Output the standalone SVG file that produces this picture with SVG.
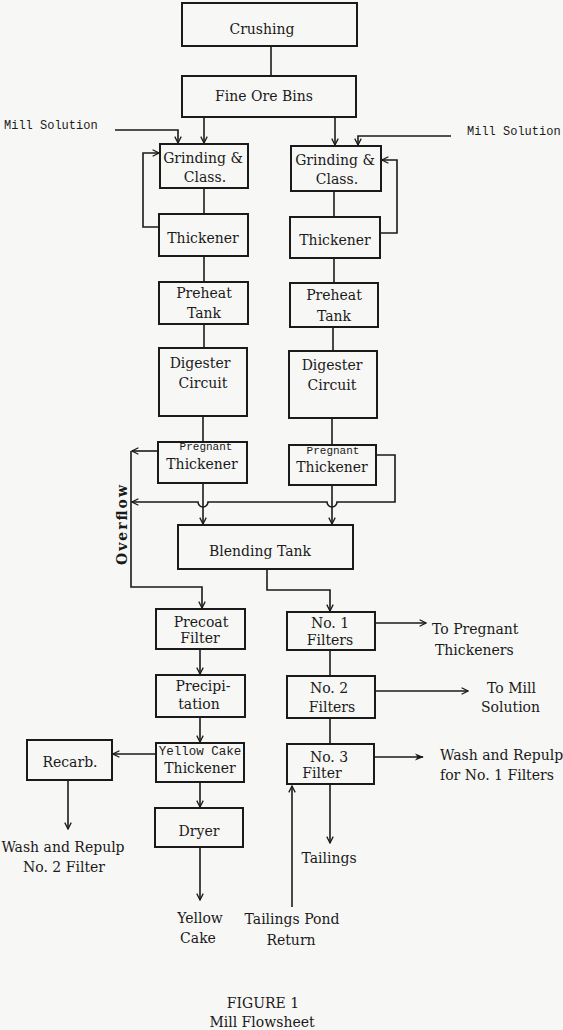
<svg xmlns="http://www.w3.org/2000/svg" width="563" height="1030" viewBox="0 0 563 1030">
<style>
.box{fill:none;stroke:#1a1a1a;stroke-width:2}
.ln{fill:none;stroke:#1a1a1a;stroke-width:1.6}
.t{font-family:"DejaVu Serif","Liberation Serif",serif;font-size:14px;fill:#1a1a1a;text-anchor:middle}
.ts{font-family:"DejaVu Serif","Liberation Serif",serif;font-size:14px;fill:#1a1a1a}
.m{font-family:"Liberation Mono","DejaVu Sans Mono",monospace;font-size:12px;fill:#1a1a1a}
.mc{font-family:"Liberation Mono","DejaVu Sans Mono",monospace;font-size:11px;fill:#1a1a1a;text-anchor:middle}
</style>
<defs>
<marker id="a" viewBox="0 0 10 10" refX="9" refY="5" markerWidth="8" markerHeight="8" markerUnits="userSpaceOnUse" orient="auto">
<path d="M1,1 L9,5 L1,9" fill="none" stroke="#1a1a1a" stroke-width="1.6"/>
</marker>
<marker id="f" viewBox="0 0 10 10" refX="9" refY="5" markerWidth="10" markerHeight="9" markerUnits="userSpaceOnUse" orient="auto">
<path d="M0,1 L10,5 L0,9 L3,5 Z" fill="#1a1a1a"/>
</marker>
</defs>
<rect width="563" height="1030" fill="#f7f7f5"/>

<g id="connectors">
<path class="ln" d="M271,46 V76"/>
<path class="ln" d="M204,117 V143" marker-end="url(#a)"/>
<path class="ln" d="M335,117 V145" marker-end="url(#a)"/>
<path class="ln" d="M115,130 H178 V143" marker-end="url(#a)"/>
<path class="ln" d="M451,136 H358 V145" marker-end="url(#a)"/>
<path class="ln" d="M204,188 V214"/>
<path class="ln" d="M159,227 H143 V153 H159" marker-end="url(#a)"/>
<path class="ln" d="M334,191 V217"/>
<path class="ln" d="M380,233 H397 V160 H382" marker-end="url(#a)"/>
<path class="ln" d="M204,256 V282"/>
<path class="ln" d="M334,258 V283"/>
<path class="ln" d="M204,324 V348"/>
<path class="ln" d="M333,327 V351"/>
<path class="ln" d="M203,416 V442"/>
<path class="ln" d="M332,418 V445"/>
<path class="ln" d="M158,451 H132" marker-end="url(#a)"/>
<path class="ln" d="M131,451 V587 H202 V608" marker-end="url(#a)"/>
<path class="ln" d="M376,455 H395 V502 H337 A5,5 0 0 1 327,502 H208 A5,5 0 0 1 198,502 H132" marker-end="url(#a)"/>
<path class="ln" d="M203,483 V524" marker-end="url(#a)"/>
<path class="ln" d="M332,485 V524" marker-end="url(#a)"/>
<path class="ln" d="M267,569 V590 H330 V611" marker-end="url(#a)"/>
<path class="ln" d="M200,649 V674" marker-end="url(#a)"/>
<path class="ln" d="M200,717 V742" marker-end="url(#a)"/>
<path class="ln" d="M156,754 H113" marker-end="url(#a)"/>
<path class="ln" d="M68,780 V829" marker-end="url(#a)"/>
<path class="ln" d="M200,782 V807" marker-end="url(#a)"/>
<path class="ln" d="M200,847 V900" marker-end="url(#a)"/>
<path class="ln" d="M375,623 H426" marker-end="url(#a)"/>
<path class="ln" d="M330,650 V676"/>
<path class="ln" d="M375,691 H468" marker-end="url(#a)"/>
<path class="ln" d="M330,718 V744"/>
<path class="ln" d="M374,757 H423" marker-end="url(#f)"/>
<path class="ln" d="M330,784 V843" marker-end="url(#a)"/>
<path class="ln" d="M292,907 V786" marker-end="url(#a)"/>
</g>

<g id="crushing"><rect class="box" x="182" y="3" width="175" height="43"/><text class="t" x="262" y="34">Crushing</text></g>
<g id="fine-ore-bins"><rect class="box" x="182" y="76" width="174" height="41"/><text class="t" x="264" y="101">Fine Ore Bins</text></g>

<g id="mill-solution-left"><text class="m" x="4" y="129">Mill Solution</text></g>
<g id="mill-solution-right"><text class="m" x="467" y="135">Mill Solution</text></g>

<g id="grinding-left"><rect class="box" x="160" y="144" width="88" height="44"/><text class="t" x="203" y="163">Grinding &amp;</text><text class="t" x="205" y="182">Class.</text></g>
<g id="thickener-left"><rect class="box" x="159" y="214" width="89" height="42"/><text class="t" x="203" y="243">Thickener</text></g>
<g id="grinding-right"><rect class="box" x="291" y="146" width="90" height="45"/><text class="t" x="335" y="165">Grinding &amp;</text><text class="t" x="337" y="184">Class.</text></g>
<g id="thickener-right"><rect class="box" x="290" y="217" width="90" height="41"/><text class="t" x="335" y="245">Thickener</text></g>

<g id="preheat-left"><rect class="box" x="159" y="282" width="89" height="42"/><text class="t" x="204" y="298">Preheat</text><text class="t" x="204" y="318">Tank</text></g>
<g id="preheat-right"><rect class="box" x="290" y="283" width="88" height="44"/><text class="t" x="334" y="300">Preheat</text><text class="t" x="334" y="321">Tank</text></g>

<g id="digester-left"><rect class="box" x="159" y="348" width="88" height="68"/><text class="t" x="200" y="368">Digester</text><text class="t" x="203" y="388">Circuit</text></g>
<g id="digester-right"><rect class="box" x="289" y="351" width="88" height="67"/><text class="t" x="332" y="370">Digester</text><text class="t" x="332" y="390">Circuit</text></g>

<g id="pregnant-left"><rect class="box" x="158" y="442" width="89" height="41"/><text class="mc" x="206" y="450">Pregnant</text><text class="t" x="202" y="469">Thickener</text></g>
<g id="pregnant-right"><rect class="box" x="289" y="445" width="87" height="40"/><text class="mc" x="333" y="454">Pregnant</text><text class="t" x="332" y="472">Thickener</text></g>

<g id="overflow-label"><text class="t" transform="translate(127,525) rotate(-90)" x="0" y="0" font-weight="bold" textLength="80">Overflow</text></g>

<g id="blending-tank"><rect class="box" x="178" y="525" width="175" height="44"/><text class="t" x="260" y="556">Blending Tank</text></g>

<g id="precoat-filter"><rect class="box" x="156" y="609" width="89" height="40"/><text class="t" x="201" y="627">Precoat</text><text class="t" x="200" y="643">Filter</text></g>
<g id="precipitation"><rect class="box" x="156" y="675" width="89" height="42"/><text class="t" x="203" y="691">Precipi-</text><text class="t" x="199" y="709">tation</text></g>
<g id="yellow-cake-thickener"><rect class="box" x="156" y="743" width="88" height="39"/><text class="mc" x="200" y="755" style="font-size:12.5px">Yellow Cake</text><text class="t" x="200" y="773">Thickener</text></g>
<g id="recarb"><rect class="box" x="27" y="740" width="85" height="40"/><text class="t" x="70" y="767">Recarb.</text></g>
<g id="wash-repulp-2"><text class="t" x="63" y="852">Wash and Repulp</text><text class="t" x="64" y="872">No. 2 Filter</text></g>
<g id="dryer"><rect class="box" x="155" y="808" width="88" height="39"/><text class="t" x="199" y="836">Dryer</text></g>
<g id="yellow-cake-out"><text class="t" x="200" y="923">Yellow</text><text class="t" x="198" y="943">Cake</text></g>

<g id="no1-filters"><rect class="box" x="287" y="612" width="88" height="38"/><text class="t" x="330" y="628">No. 1</text><text class="t" x="330" y="645">Filters</text></g>
<g id="to-pregnant"><text class="ts" x="432" y="634">To Pregnant</text><text class="ts" x="435" y="655">Thickeners</text></g>
<g id="no2-filters"><rect class="box" x="287" y="676" width="88" height="42"/><text class="t" x="329" y="693">No. 2</text><text class="t" x="332" y="712">Filters</text></g>
<g id="to-mill-solution"><text class="ts" x="487" y="693">To Mill</text><text class="ts" x="481" y="712">Solution</text></g>
<g id="no3-filter"><rect class="box" x="287" y="744" width="87" height="40"/><text class="t" x="329" y="762">No. 3</text><text class="t" x="322" y="778">Filter</text></g>
<g id="wash-repulp-1"><text class="ts" x="440" y="760">Wash and Repulp</text><text class="ts" x="440" y="780">for No. 1 Filters</text></g>
<g id="tailings"><text class="t" x="329" y="863">Tailings</text></g>
<g id="tailings-pond-return"><text class="t" x="292" y="924">Tailings Pond</text><text class="t" x="291" y="945">Return</text></g>

<g id="caption"><text class="t" x="263" y="1008">FIGURE 1</text><text class="t" x="262" y="1027">Mill Flowsheet</text></g>
</svg>
